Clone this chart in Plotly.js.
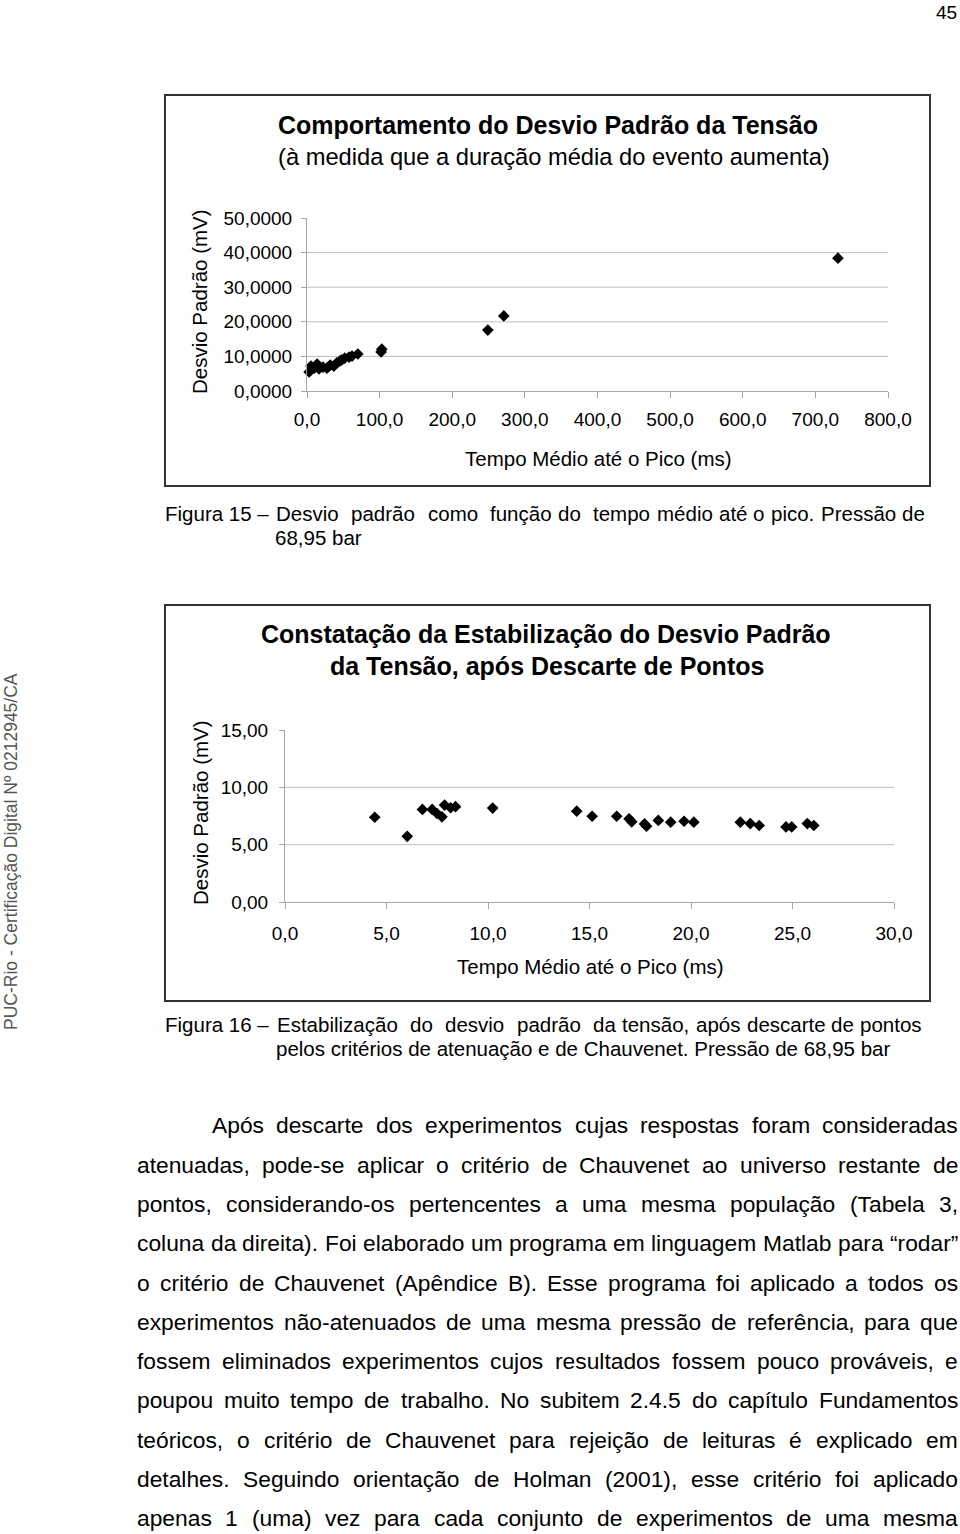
<!DOCTYPE html>
<html>
<head>
<meta charset="utf-8">
<script src="https://cdn.plot.ly/plotly-3.0.1.min.js"></script>
<style>
html,body{margin:0;padding:0;background:#fff;}
#chart{width:960px;height:1534px;}
</style>
</head>
<body>
<div id="chart"></div>
<script>
// ---------- DATA ----------
// Figura 15: Tempo médio até o pico (ms) vs Desvio padrão (mV)
const fig15X = [3, 5.5, 10, 14, 16.5, 22, 27.5, 32, 37, 41, 45.5, 48, 52, 58, 62, 70, 102, 103, 249, 271, 731];
const fig15Y = [5.5, 7.2, 6.6, 7.8, 6.4, 6.9, 6.6, 7.5, 7.2, 8.1, 8.7, 9.0, 9.5, 9.8, 10.1, 10.7, 11.3, 12.1, 17.6, 21.7, 38.4];
const fig15XTickVals = [0, 100, 200, 300, 400, 500, 600, 700, 800];
const fig15XTickText = ["0,0", "100,0", "200,0", "300,0", "400,0", "500,0", "600,0", "700,0", "800,0"];
const fig15YTickVals = [0, 10, 20, 30, 40, 50];
const fig15YTickText = ["0,0000", "10,0000", "20,0000", "30,0000", "40,0000", "50,0000"];

// Figura 16: after discarding points
const fig16X = [4.42, 6.02, 6.77, 7.25, 7.49, 7.73, 7.86, 8.16, 8.40, 10.23, 14.37, 15.13, 16.34, 16.95, 17.08, 17.71, 17.81, 18.39, 19.0, 19.66, 20.14, 22.43, 22.92, 23.36, 24.68, 24.96, 25.73, 26.05];
const fig16Y = [7.39, 5.73, 8.07, 8.07, 7.72, 7.43, 8.45, 8.22, 8.31, 8.19, 7.92, 7.48, 7.48, 7.25, 6.99, 6.81, 6.61, 7.11, 6.96, 7.04, 6.96, 6.96, 6.84, 6.67, 6.55, 6.55, 6.84, 6.67];
const fig16XTickVals = [0, 5, 10, 15, 20, 25, 30];
const fig16XTickText = ["0,0", "5,0", "10,0", "15,0", "20,0", "25,0", "30,0"];
const fig16YTickVals = [0, 5, 10, 15];
const fig16YTickText = ["0,00", "5,00", "10,00", "15,00"];

const fig15Title = ["<b>Comportamento do Desvio Padrão da Tensão</b>", "(à medida que a duração média do evento aumenta)"];
const fig16Title = ["<b>Constatação da Estabilização do Desvio Padrão</b>", "<b>da Tensão, após Descarte de Pontos</b>"];
const xAxisTitle = "Tempo Médio até o Pico (ms)";
const yAxisTitle = "Desvio Padrão (mV)";

const caption15 = ["Figura 15 –", "Desvio  padrão  como  função do  tempo médio até o pico. Pressão de", "68,95 bar"];
const caption16 = ["Figura 16 –", "Estabilização  do  desvio  padrão  da tensão, após descarte de pontos", "pelos critérios de atenuação e de Chauvenet. Pressão de 68,95 bar"];

const bodyLines = [
  "Após descarte dos experimentos cujas respostas foram consideradas",
  "atenuadas, pode-se aplicar o critério de Chauvenet ao universo restante de",
  "pontos, considerando-os pertencentes a uma mesma população (Tabela 3,",
  "coluna da direita). Foi elaborado um programa em linguagem Matlab para “rodar”",
  "o critério de Chauvenet (Apêndice B). Esse programa foi aplicado a todos os",
  "experimentos não-atenuados de uma mesma pressão de referência, para que",
  "fossem eliminados experimentos cujos resultados fossem pouco prováveis, e",
  "poupou muito tempo de trabalho. No subitem 2.4.5 do capítulo Fundamentos",
  "teóricos, o critério de Chauvenet para rejeição de leituras é explicado em",
  "detalhes. Seguindo orientação de Holman (2001), esse critério foi aplicado",
  "apenas 1 (uma) vez para cada conjunto de experimentos de uma mesma"
];
const pageNumber = "45";
const sideText = "PUC-Rio - Certificação Digital Nº 0212945/CA";

// ---------- LAYOUT HELPERS ----------
const W = 960, H = 1534;
const FONT = 'Arial, "Liberation Sans", sans-serif';
const px = v => v / W;
const py = v => 1 - v / H;

const annotations = [];
function addText(text, x, y, opts) {
  opts = opts || {};
  annotations.push(Object.assign({
    xref: 'paper', yref: 'paper', x: px(x), y: py(y), text: text,
    showarrow: false, xanchor: 'center', yanchor: 'middle',
    borderpad: 0, borderwidth: 0,
    font: {family: FONT, size: 20, color: '#000'}
  }, opts));
}

const ctx = document.createElement('canvas').getContext('2d');
// justified line: every single space is one gap (double spaces give double gaps)
function justify(line, x0, x1, y, size) {
  const parts = line.split(' ');
  ctx.font = size + 'px Arial, "Liberation Sans", sans-serif';
  const widths = parts.map(w => w ? ctx.measureText(w).width : 0);
  const total = widths.reduce((a, b) => a + b, 0);
  const gap = parts.length > 1 ? (x1 - x0 - total) / (parts.length - 1) : 0;
  let x = x0;
  parts.forEach((w, i) => {
    if (w) addText(w, x, y, {xanchor: 'left', font: {family: FONT, size: size, color: '#000'}});
    x += widths[i] + gap;
  });
}

// ---------- TRACES ----------
const markerStyle = {symbol: 'diamond', size: 9, color: '#000'};
const traces = [
  {type: 'scatter', mode: 'markers', x: fig15X, y: fig15Y, xaxis: 'x', yaxis: 'y',
   marker: markerStyle, cliponaxis: false, showlegend: false, hoverinfo: 'x+y'},
  {type: 'scatter', mode: 'markers', x: fig16X, y: fig16Y, xaxis: 'x2', yaxis: 'y2',
   marker: markerStyle, cliponaxis: false, showlegend: false, hoverinfo: 'x+y'}
];

// ---------- AXES ----------
const axisBase = {
  showgrid: false, zeroline: false, showline: true, linecolor: '#a6a6a6', linewidth: 1,
  ticks: 'outside', tickcolor: '#a6a6a6', tickwidth: 1, ticklen: 5,
  tickmode: 'array', fixedrange: true,
  tickfont: {family: FONT, size: 19, color: '#000'}
};
const xaxis = Object.assign({}, axisBase, {
  domain: [px(307), px(888)], range: [0, 800], anchor: 'y',
  tickvals: fig15XTickVals, ticktext: fig15XTickText, ticklen: 6, ticklabelstandoff: 5
});
const yaxis = Object.assign({}, axisBase, {
  domain: [py(391), py(218)], range: [0, 50], anchor: 'x',
  tickvals: fig15YTickVals, ticktext: fig15YTickText, ticklabelstandoff: 5
});
const xaxis2 = Object.assign({}, axisBase, {
  domain: [px(285), px(894)], range: [0, 30], anchor: 'y2',
  tickvals: fig16XTickVals, ticktext: fig16XTickText, ticklen: 6, ticklabelstandoff: 8
});
const yaxis2 = Object.assign({}, axisBase, {
  domain: [py(902), py(730)], range: [0, 15], anchor: 'x2',
  tickvals: fig16YTickVals, ticktext: fig16YTickText, ticklabelstandoff: 7
});

// ---------- SHAPES ----------
const shapes = [];
// chart frames
shapes.push({type: 'rect', xref: 'paper', yref: 'paper', x0: px(165), x1: px(930), y0: py(486), y1: py(95),
  line: {color: '#333', width: 2}, fillcolor: 'rgba(0,0,0,0)'});
shapes.push({type: 'rect', xref: 'paper', yref: 'paper', x0: px(165), x1: px(930), y0: py(1001), y1: py(605),
  line: {color: '#333', width: 2}, fillcolor: 'rgba(0,0,0,0)'});
// gridlines (interior ticks only, as in the original)
fig15YTickVals.slice(1, -1).forEach(v => shapes.push({type: 'line', xref: 'x domain', yref: 'y',
  x0: 0, x1: 1, y0: v, y1: v, line: {color: '#bfbfbf', width: 1}, layer: 'below'}));
fig16YTickVals.slice(1, -1).forEach(v => shapes.push({type: 'line', xref: 'x2 domain', yref: 'y2',
  x0: 0, x1: 1, y0: v, y1: v, line: {color: '#bfbfbf', width: 1}, layer: 'below'}));

// ---------- TEXT ----------
addText(pageNumber, 957, 12, {xanchor: 'right', font: {family: FONT, size: 19, color: '#000'}});
addText(sideText, 11, 852, {textangle: -90, font: {family: FONT, size: 17.5, color: '#555'}});

// Figure 15 chart texts
addText(fig15Title[0], 548, 125, {font: {family: FONT, size: 25, color: '#000'}});
addText(fig15Title[1], 554, 157, {font: {family: FONT, size: 23.7, color: '#000'}});
addText(xAxisTitle, 598, 458, {font: {family: FONT, size: 20.5, color: '#000'}});
addText(yAxisTitle, 200, 302, {textangle: -90, font: {family: FONT, size: 20.5, color: '#000'}});

// Figure 16 chart texts
addText(fig16Title[0], 546, 634, {font: {family: FONT, size: 25, color: '#000'}});
addText(fig16Title[1], 547, 666, {font: {family: FONT, size: 25, color: '#000'}});
addText(xAxisTitle, 590, 966, {font: {family: FONT, size: 20.5, color: '#000'}});
addText(yAxisTitle, 200, 813, {textangle: -90, font: {family: FONT, size: 20.5, color: '#000'}});

// Captions
const capSize = 20.5;
addText(caption15[0], 165, 514, {xanchor: 'left', font: {family: FONT, size: capSize, color: '#000'}});
justify(caption15[1], 276, 925, 514, capSize);
addText(caption15[2], 275, 537, {xanchor: 'left', font: {family: FONT, size: capSize, color: '#000'}});
addText(caption16[0], 165, 1024, {xanchor: 'left', font: {family: FONT, size: capSize, color: '#000'}});
justify(caption16[1], 277, 922, 1024, capSize);
addText(caption16[2], 276, 1048, {xanchor: 'left', font: {family: FONT, size: capSize, color: '#000'}});

// Body paragraph (justified)
const bodyY = [1125, 1165, 1204, 1243, 1283, 1322, 1361, 1400, 1440, 1479, 1518];
bodyLines.forEach((ln, i) => justify(ln, i === 0 ? 212 : 137, 958, bodyY[i], 22.8));

// ---------- LAYOUT ----------
const layout = {
  width: W, height: H,
  margin: {l: 0, r: 0, t: 0, b: 0},
  paper_bgcolor: '#fff', plot_bgcolor: 'rgba(0,0,0,0)',
  showlegend: false,
  font: {family: FONT, color: '#000'},
  xaxis: xaxis, yaxis: yaxis, xaxis2: xaxis2, yaxis2: yaxis2,
  shapes: shapes, annotations: annotations
};

Plotly.newPlot('chart', traces, layout, {displayModeBar: false, staticPlot: true});
</script>
</body>
</html>
